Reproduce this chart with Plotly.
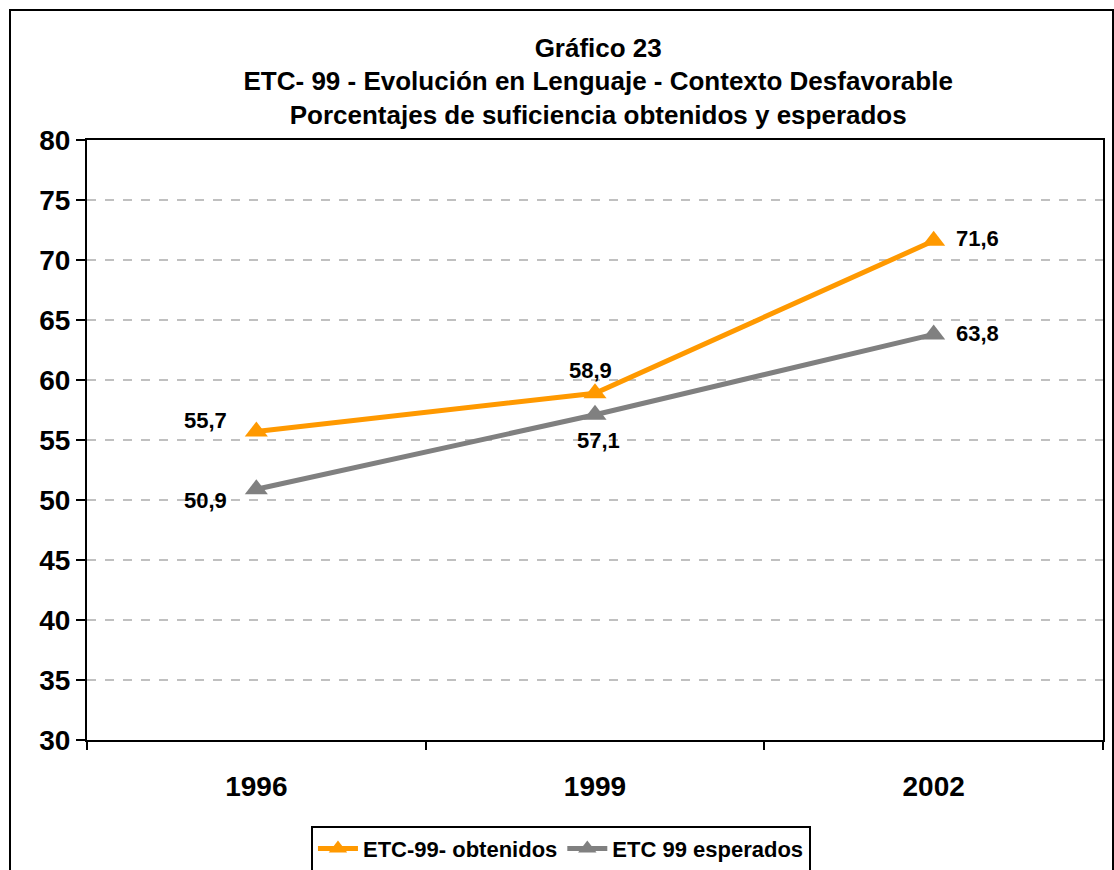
import plotly.graph_objects as go

years = ["1996", "1999", "2002"]
obtenidos = [55.7, 58.9, 71.6]
esperados = [50.9, 57.1, 63.8]
obt_labels = ["55,7", "58,9", "71,6"]
esp_labels = ["50,9", "57,1", "63,8"]

FONT = "Liberation Sans, Arial, sans-serif"

# label offsets in pixels (x, y-up) relative to each point
obt_offsets = [(-51, 11), (-5, 23), (44, 2)]
esp_offsets = [(-51, -11), (3, -26), (44, 1)]

fig = go.Figure()
fig.add_trace(go.Scatter(
    x=years, y=obtenidos, name="ETC-99- obtenidos", mode="lines+markers",
    line=dict(color="#FF9900", width=5),
    marker=dict(symbol="triangle-up", size=20, color="#FF9900"),
))
fig.add_trace(go.Scatter(
    x=years, y=esperados, name="ETC 99 esperados", mode="lines+markers",
    line=dict(color="#808080", width=5),
    marker=dict(symbol="triangle-up", size=20, color="#808080"),
))

for ys, labels, offs in [(obtenidos, obt_labels, obt_offsets),
                         (esperados, esp_labels, esp_offsets)]:
    for i, (yv, lab, (dx, dy)) in enumerate(zip(ys, labels, offs)):
        fig.add_annotation(x=i, y=yv, xref="x", yref="y", text=lab, showarrow=False,
                           xshift=dx, yshift=dy,
                           font=dict(family=FONT, size=22, color="black", weight="bold"))

fig.update_layout(
    width=1114, height=870,
    margin=dict(l=87, r=11, t=140, b=130, autoexpand=False),
    paper_bgcolor="white", plot_bgcolor="white",
    font=dict(family=FONT, color="black"),
    title=dict(
        text="Gráfico 23<br>ETC- 99 - Evolución en Lenguaje - Contexto Desfavorable<br>Porcentajes de suficiencia obtenidos y esperados",
        x=0.537, xanchor="center", y=0.935, yanchor="top",
        font=dict(family=FONT, size=26, color="black", weight="bold"),
    ),
    xaxis=dict(
        type="category", tickson="boundaries", ticks="outside", ticklen=8, tickwidth=2,
        tickcolor="black", showline=True, linecolor="black", linewidth=2, mirror=True,
        showgrid=False, tickfont=dict(family=FONT, size=28, weight="bold"),
        range=[-0.5, 2.5], automargin=False, ticklabelstandoff=20,
    ),
    yaxis=dict(
        range=[30, 80], dtick=5, tick0=30, ticks="outside", ticklen=9, tickwidth=2,
        tickcolor="black", showline=True, linecolor="black", linewidth=2, mirror=True,
        showgrid=True, gridcolor="#C0C0C0", gridwidth=2, griddash="dash",
        tickfont=dict(family=FONT, size=28, weight="bold"), zeroline=False,
        automargin=False,
    ),
    legend=dict(
        orientation="h", x=0.4665, xanchor="center", y=-0.143, yanchor="top",
        bordercolor="black", borderwidth=2, bgcolor="white",
        font=dict(family=FONT, size=22, weight="bold"),
        itemwidth=40, tracegroupgap=0,
    ),
    showlegend=True,
)

fig.add_shape(type="rect", xref="paper", yref="paper",
              x0=(10 - 87) / 1016, x1=(1113 - 87) / 1016,
              y0=-0.3, y1=(740 - 10) / 600,
              line=dict(color="black", width=2), fillcolor="rgba(0,0,0,0)", layer="below")

fig.write_html("out.html", config={"displayModeBar": False})

with open("out.html", "r", encoding="utf-8") as f:
    html = f.read()
html = html.replace("<head>", "<head><style>body{margin:0;}</style>", 1)
with open("out.html", "w", encoding="utf-8") as f:
    f.write(html)
